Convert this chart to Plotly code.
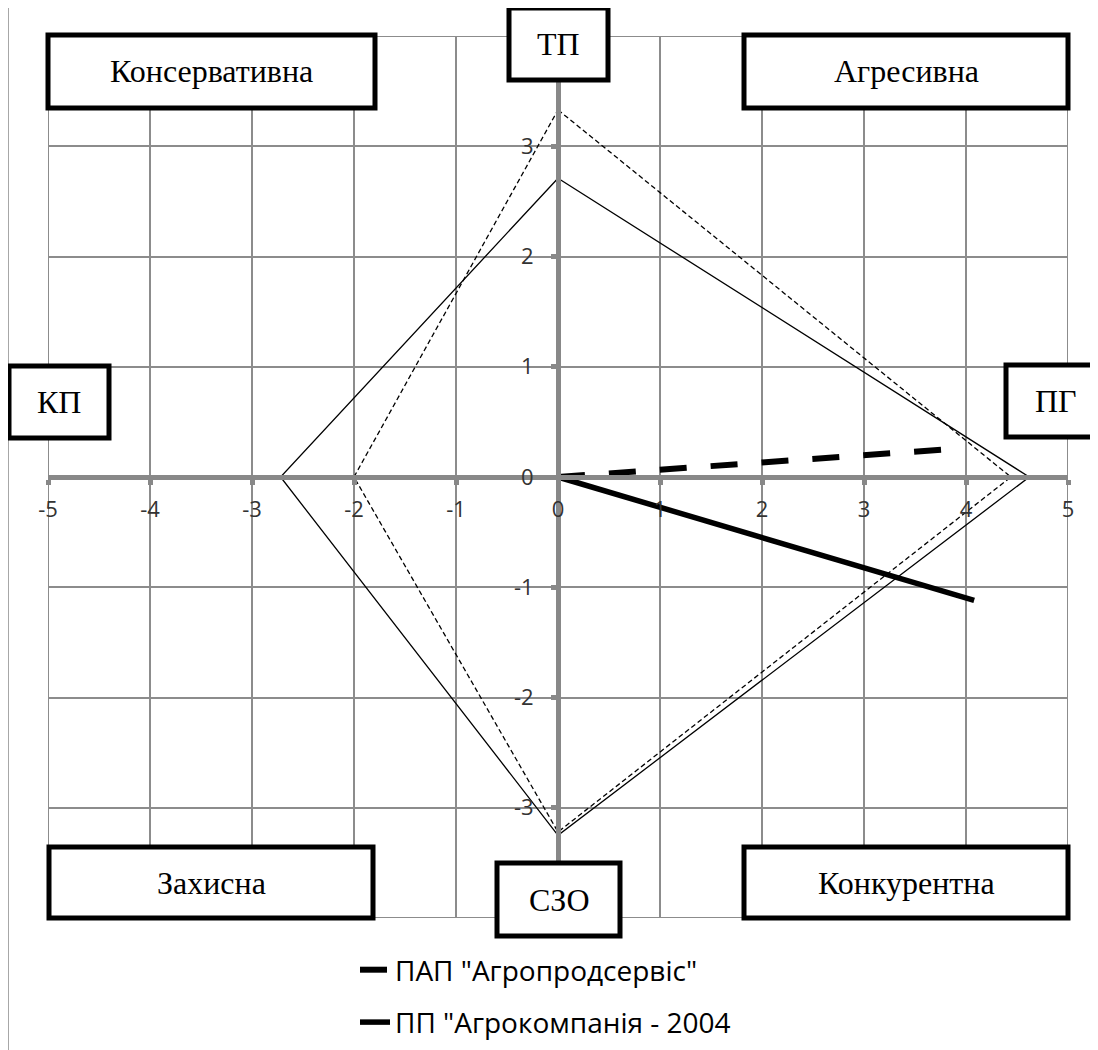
import plotly.graph_objects as go

# ---- data ----
axis_names = ["ТП", "ПГ", "СЗО", "КП"]
quadrants = ["Консервативна", "Агресивна", "Захисна", "Конкурентна"]

series_names = ['ПАП "Агропродсервіс"', 'ПП "Агрокомпанія - 2004']
# vertices on axes: ТП (top, y), ПГ (right, x), СЗО (bottom, y), КП (left, x)
pap_tp, pap_pg, pap_szo, pap_kp = 3.33, 4.44, -3.22, -2.00
pp_tp, pp_pg, pp_szo, pp_kp = 2.71, 4.62, -3.25, -2.72
# resulting strategy vectors (end points)
pap_vec = (3.87, 0.255)
pp_vec = (4.08, -1.12)

x_ticks = [-5, -4, -3, -2, -1, 0, 1, 2, 3, 4, 5]
x_ticktext = ["-5", "-4", "-3", "-2", "-1", "0", "1", "2", "3", "4", "5"]
y_ticks = [-4, -3, -2, -1, 0, 1, 2, 3, 4]
y_ticktext = ["", "-3", "-2", "-1", "0", "1", "2", "3", ""]

# ---- layout geometry (screen pixels, page has an 8px body margin) ----
OFF = 8
W, H = 1090, 1042
L, R, T, B = 40, 30, 28, 132
PW, PH = W - L - R, H - T - B


def px(x):
    return (x - OFF - L) / PW


def py(y):
    return (H - B - (y - OFF)) / PH


fig = go.Figure()

fig.add_trace(go.Scatter(
    x=[0, pap_pg, 0, pap_kp, 0], y=[pap_tp, 0, pap_szo, 0, pap_tp],
    mode="lines", line=dict(color="black", width=1.3, dash="5px,3px"),
    showlegend=False, hoverinfo="skip"))
fig.add_trace(go.Scatter(
    x=[0, pp_pg, 0, pp_kp, 0], y=[pp_tp, 0, pp_szo, 0, pp_tp],
    mode="lines", line=dict(color="black", width=1.3),
    showlegend=False, hoverinfo="skip"))
fig.add_trace(go.Scatter(
    x=[0, pap_vec[0]], y=[0, pap_vec[1]], mode="lines", name=series_names[0],
    legendgroup="a", line=dict(color="black", width=6, dash="27px,24px")))
fig.add_trace(go.Scatter(
    x=[0, pp_vec[0]], y=[0, pp_vec[1]], mode="lines", name=series_names[1],
    legendgroup="b", line=dict(color="black", width=5.5)))

GRID = "#8c8c8c"
AX = "#888888"
tickfont = dict(family="Open Sans", size=22, color="#333333")

fig.update_xaxes(range=[-5, 5], tickvals=x_ticks, ticktext=x_ticktext,
                 anchor="free", position=0.5,
                 showline=True, linewidth=5, linecolor=AX,
                 ticks="outside", ticklen=5, tickwidth=5, tickcolor=AX,
                 showgrid=True, gridcolor=GRID, gridwidth=2, zeroline=False,
                 tickfont=tickfont, ticklabelstandoff=6)
fig.update_yaxes(range=[-4, 4], tickvals=y_ticks, ticktext=y_ticktext,
                 anchor="free", position=0.5,
                 showline=True, linewidth=5, linecolor=AX,
                 ticks="outside", ticklen=5, tickwidth=5, tickcolor=AX,
                 showgrid=True, gridcolor=GRID, gridwidth=2, zeroline=False,
                 tickfont=tickfont, ticklabelstandoff=13)

# boxes: (label, x0, y0, x1, y1) in screen pixels
boxes = [
    (quadrants[0], 48, 35, 375, 108),
    (quadrants[1], 744, 35, 1068, 108),
    (quadrants[2], 49, 847, 373, 918),
    (quadrants[3], 744, 847, 1068, 918),
    (axis_names[0], 509, 8, 608, 80),
    (axis_names[1], 1006, 365, 1106, 437),
    (axis_names[2], 497, 863, 620, 936),
    (axis_names[3], 9, 366, 109, 438),
]
shapes = [
    # plot frame (outer grid lines)
    dict(type="rect", xref="x", yref="y", x0=-5, x1=5, y0=-4, y1=4,
         line=dict(color=GRID, width=2), fillcolor="rgba(0,0,0,0)", layer="below"),
    # chart area border
    dict(type="rect", xref="paper", yref="paper",
         x0=px(8), x1=px(1110), y0=py(7), y1=py(1070),
         line=dict(color="#8a8a8a", width=1.5), fillcolor="rgba(0,0,0,0)",
         layer="above"),
]
annotations = []
for lab, x0, y0, x1, y1 in boxes:
    shapes.append(dict(type="rect", xref="paper", yref="paper",
                       x0=px(x0), x1=px(x1), y0=py(y1), y1=py(y0),
                       line=dict(color="black", width=5), fillcolor="white",
                       layer="above"))
    annotations.append(dict(text=lab, xref="paper", yref="paper",
                            x=px((x0 + x1) / 2), y=py((y0 + y1) / 2),
                            xanchor="center", yanchor="middle", showarrow=False,
                            font=dict(family="Liberation Serif", size=32, color="black")))

fig.update_layout(
    width=W, height=H, margin=dict(l=L, r=R, t=T, b=B, autoexpand=False),
    plot_bgcolor="white", paper_bgcolor="white",
    shapes=shapes, annotations=annotations,
    showlegend=True,
    legend=dict(x=px(355), y=py(945), xanchor="left", yanchor="top",
                font=dict(family="Open Sans", size=28, color="black"),
                traceorder="grouped", tracegroupgap=13,
                bgcolor="rgba(0,0,0,0)"),
)

fig.write_html("out.html")
